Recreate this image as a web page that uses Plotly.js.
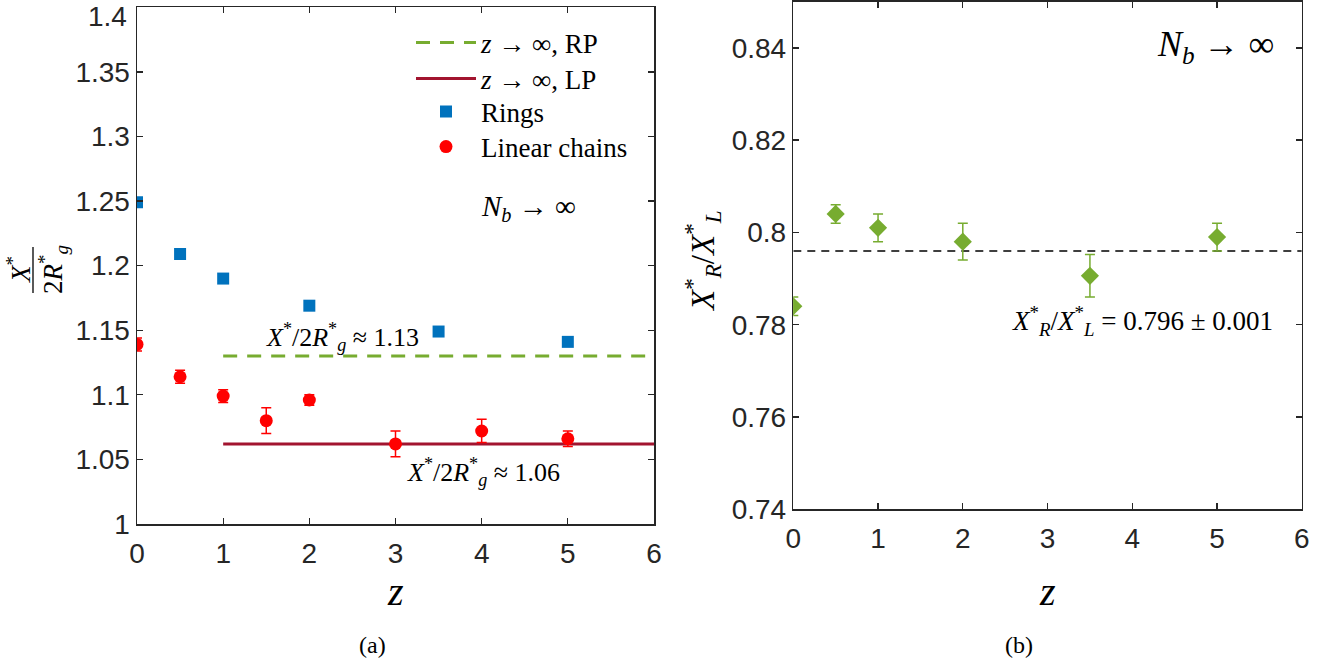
<!DOCTYPE html>
<html>
<head>
<meta charset="utf-8">
<script src="https://cdn.plot.ly/plotly-3.0.1.min.js"></script>
<style>
html,body{margin:0;padding:0;background:#fff;}
#chart{width:1323px;height:664px;}
</style>
</head>
<body>
<div id="chart"></div>
<script>
// ---- data (panel a) ----
const zRings = [0, 0.5, 1, 2, 3.5, 5];
const rings = [1.249, 1.209, 1.190, 1.169, 1.149, 1.141];
const ringsErr = [0.003, 0.001, 0.001, 0.001, 0.001, 0.001];

const zLinear = [0, 0.5, 1, 1.5, 2, 3, 4, 5];
const linear = [1.139, 1.114, 1.099, 1.080, 1.096, 1.062, 1.072, 1.066];
const linearErr = [0.005, 0.005, 0.005, 0.010, 0.004, 0.010, 0.009, 0.006];

const zLimit = [1, 6];
const limitRP = [1.13, 1.13];
const limitLP = [1.062, 1.062];

// ---- data (panel b) ----
const zRatio = [0, 0.5, 1, 2, 3.5, 5];
const ratio = [0.784, 0.804, 0.801, 0.798, 0.7906, 0.799];
const ratioErr = [0.002, 0.002, 0.003, 0.004, 0.0046, 0.003];
const zMean = [0, 6];
const meanRatio = [0.796, 0.796];

// ---- ticks ----
const xTicks = [0, 1, 2, 3, 4, 5, 6];
const xTickText = ['0', '1', '2', '3', '4', '5', '6'];
const yTicksA = [1, 1.05, 1.1, 1.15, 1.2, 1.25, 1.3, 1.35, 1.4];
const yTickTextA = ['1', '1.05', '1.1', '1.15', '1.2', '1.25', '1.3', '1.35', '1.4'];
const yTicksB = [0.74, 0.76, 0.78, 0.8, 0.82, 0.84];
const yTickTextB = ['0.74', '0.76', '0.78', '0.8', '0.82', '0.84'];

const SANS = 'Liberation Sans, Arial, Helvetica, sans-serif';
const SERIF = 'Liberation Serif, Times New Roman, serif';
const AX = '#262626';

const traces = [
  {x: zLimit, y: limitRP, mode: 'lines', name: '<i>z</i> → ∞, RP', legend: 'legend',
   line: {color: '#77AC30', width: 3, dash: '14px,10px'}, xaxis: 'x', yaxis: 'y'},
  {x: zLimit, y: limitLP, mode: 'lines', name: '<i>z</i> → ∞, LP', legend: 'legend2',
   line: {color: '#A2142F', width: 3}, xaxis: 'x', yaxis: 'y'},
  {x: zRings, y: rings, mode: 'markers', name: 'Rings', legend: 'legend3',
   marker: {symbol: 'square', size: 12, color: '#0072BD'},
   error_y: {type: 'data', array: ringsErr, visible: true, color: '#0072BD', thickness: 1.5, width: 5},
   xaxis: 'x', yaxis: 'y'},
  {x: zLinear, y: linear, mode: 'markers', name: 'Linear chains', legend: 'legend4',
   marker: {symbol: 'circle', size: 13, color: '#FF0000'},
   error_y: {type: 'data', array: linearErr, visible: true, color: '#FF0000', thickness: 1.5, width: 5},
   xaxis: 'x', yaxis: 'y'},
  {x: zMean, y: meanRatio, mode: 'lines', showlegend: false,
   line: {color: '#000000', width: 1.5, dash: '8px,6px'}, xaxis: 'x2', yaxis: 'y2'},
  {x: zRatio, y: ratio, mode: 'markers', showlegend: false,
   marker: {symbol: 'diamond', size: 14, color: '#77AC30'},
   error_y: {type: 'data', array: ratioErr, visible: true, color: '#77AC30', thickness: 1.5, width: 5},
   xaxis: 'x2', yaxis: 'y2'}
];

const W = 1323, H = 664;
const px = v => v / W;
const py = v => 1 - v / H;

function axisBase() {
  return {
    showgrid: false, zeroline: false, showline: true, linecolor: AX, linewidth: 1.5,
    mirror: 'ticks', ticks: 'inside', ticklen: 6, tickwidth: 1.3, tickcolor: AX,
    tickfont: {family: SANS, size: 28, color: AX}, tickmode: 'array', fixedrange: true,
    ticklabeloverflow: 'allow'
  };
}

function note(o) {
  return Object.assign({showarrow: false, xanchor: 'center', yanchor: 'middle'}, o);
}

function legendAt(rowY) {
  return {
    x: px(411), y: py(rowY), xanchor: 'left', yanchor: 'middle',
    bgcolor: 'rgba(0,0,0,0)', borderwidth: 0, itemwidth: 60,
    font: {family: SERIF, size: 27, color: '#000'}
  };
}

// the top label of panel (a) sits at the figure edge; it is drawn just inside the page
const lastA = yTicksA.length - 1;
const yTickTextAxisA = yTickTextA.map((t, i) => (i === lastA ? '' : t));

const layout = {
  width: W, height: H,
  margin: {l: 0, r: 0, t: 0, b: 0},
  paper_bgcolor: '#ffffff', plot_bgcolor: '#ffffff',
  showlegend: true,
  legend: legendAt(43),
  legend2: legendAt(79),
  legend3: legendAt(112),
  legend4: legendAt(147),
  xaxis: Object.assign(axisBase(), {domain: [px(137), px(654)], range: [0, 6],
    tickvals: xTicks, ticktext: xTickText, anchor: 'y', ticklabelstandoff: 4}),
  yaxis: Object.assign(axisBase(), {domain: [py(524), py(7.3)], range: [1, 1.4],
    tickvals: yTicksA, ticktext: yTickTextAxisA, anchor: 'x'}),
  xaxis2: Object.assign(axisBase(), {domain: [px(793.3), px(1301.8)], range: [0, 6],
    tickvals: xTicks, ticktext: xTickText, anchor: 'y2', ticklabelstandoff: 4}),
  yaxis2: Object.assign(axisBase(), {domain: [py(509.3), py(1.7)], range: [0.74, 0.85],
    tickvals: yTicksB, ticktext: yTickTextB, anchor: 'x2'}),
  shapes: [
    {type: 'line', xref: 'paper', yref: 'paper', x0: px(33), x1: px(33), y0: py(247), y1: py(293),
     line: {color: '#000', width: 1.3}}
  ],
  annotations: [
    // top tick label of panel (a)
    {xref: 'paper', yref: 'paper', x: px(128), y: 1, xanchor: 'right', yanchor: 'top',
     borderpad: 0, showarrow: false, text: yTickTextA[lastA], font: {family: SANS, size: 28, color: AX}},
    // panel a texts
    note({xref: 'x', yref: 'y', x: 4.54, y: 1.245, text: '<i>N</i><sub><i>b</i></sub> → ∞',
     font: {family: SERIF, size: 29, color: '#000'}}),
    note({xref: 'x', yref: 'y', x: 2.38, y: 1.145,
     text: '<i>X</i><sup>*</sup>/2<i>R</i><sup>*</sup><sub><i>g</i></sub> ≈ 1.13',
     font: {family: SERIF, size: 26, color: '#000'}}),
    note({xref: 'x', yref: 'y', x: 4.02, y: 1.040,
     text: '<i>X</i><sup>*</sup>/2<i>R</i><sup>*</sup><sub><i>g</i></sub> ≈ 1.06',
     font: {family: SERIF, size: 26, color: '#000'}}),
    // y title fraction (panel a)
    note({xref: 'paper', yref: 'paper', x: px(19), y: py(270), textangle: -90,
     text: '<i>X</i><sup>*</sup>', font: {family: SERIF, size: 27, color: '#000'}}),
    note({xref: 'paper', yref: 'paper', x: px(53), y: py(270), textangle: -90,
     text: '2<i>R</i><sup>*</sup><sub><i>g</i></sub>',
     font: {family: SERIF, size: 27, color: '#000'}}),
    // x titles
    note({xref: 'paper', yref: 'paper', x: px(395.5), y: py(591), text: '<i>z</i>',
     font: {family: SERIF, size: 40, color: '#000'}}),
    note({xref: 'paper', yref: 'paper', x: px(1047.5), y: py(591), text: '<i>z</i>',
     font: {family: SERIF, size: 40, color: '#000'}}),
    // captions
    note({xref: 'paper', yref: 'paper', x: px(372), y: py(645), text: '(a)',
     font: {family: SERIF, size: 24, color: '#000'}}),
    note({xref: 'paper', yref: 'paper', x: px(1019), y: py(645), text: '(b)',
     font: {family: SERIF, size: 24, color: '#000'}}),
    // panel b texts
    note({xref: 'x2', yref: 'y2', x: 4.98, y: 0.8402, text: '<i>N</i><sub><i>b</i></sub> → ∞',
     font: {family: SERIF, size: 36, color: '#000'}}),
    note({xref: 'x2', yref: 'y2', x: 4.12, y: 0.7807,
     text: '<i>X</i><sup>*</sup><sub><i>R</i></sub>/<i>X</i><sup>*</sup><sub><i>L</i></sub> = 0.796 ± 0.001',
     font: {family: SERIF, size: 27, color: '#000'}}),
    note({xref: 'paper', yref: 'paper', x: px(702), y: py(261), textangle: -90,
     text: '<i>X</i><sup>*</sup><sub><i>R</i></sub>/<i>X</i><sup>*</sup><sub><i>L</i></sub>',
     font: {family: SERIF, size: 33, color: '#000'}})
  ]
};

Plotly.newPlot('chart', traces, layout, {staticPlot: true, displayModeBar: false});
</script>
</body>
</html>
